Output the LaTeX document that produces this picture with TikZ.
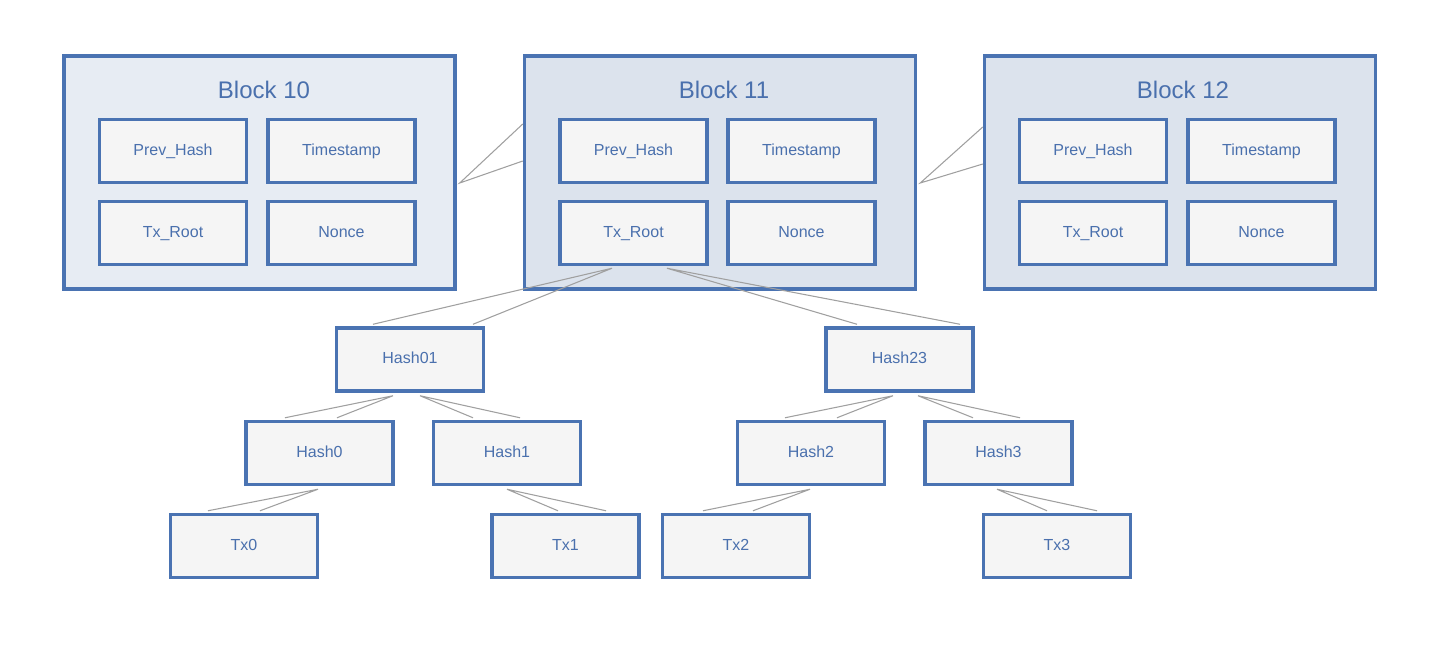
\documentclass[tikz,border=0pt]{standalone}
\usepackage{fontspec}
\setmainfont{Liberation Sans}
\usetikzlibrary{calc}
\definecolor{bord}{HTML}{4A73B2}
\definecolor{txt}{HTML}{4A70AD}
\definecolor{blkA}{HTML}{E7ECF3}
\definecolor{blkB}{HTML}{DCE3ED}
\definecolor{cell}{HTML}{F5F5F5}
\definecolor{fan}{HTML}{A0A0A0}
\tikzset{
  blockbox/.style={draw=bord, line width=2.6pt, minimum width=293.25pt, minimum height=174.75pt, inner sep=0pt},
  cellbox/.style={draw=bord, fill=cell, line width=2.6pt, minimum width=110.25pt, minimum height=47.25pt, inner sep=0pt, text=txt, font=\fontsize{12}{14}\selectfont, text height=8.6pt, text depth=2.4pt},
  title/.style={text=txt, font=\fontsize{18}{21}\selectfont, inner sep=0pt},
  fanline/.style={draw=fan, line width=0.8pt},
}
\begin{document}
\begin{tikzpicture}[x=0.75pt, y=-0.75pt]
\useasboundingbox (0,0) rectangle (1440,654);
% blocks
\node[blockbox, fill=blkA] (b10) at (259.5,172.5) {};
\node[blockbox, fill=blkB] (b11) at (720,172.5) {};
\node[blockbox, fill=blkB] (b12) at (1180,172.5) {};
\node[title] (t10) at (264,90) {Block 10};
\node[title] (t11) at (724,90) {Block 11};
\node[title] (t12) at (1183,90) {Block 12};
% block 10 cells
\node[cellbox] (p10) at (173,151) {Prev\_Hash};
\node[cellbox] (s10) at (341.5,151) {Timestamp};
\node[cellbox] (r10) at (173,233) {Tx\_Root};
\node[cellbox] (n10) at (341.5,233) {Nonce};
% block 11 cells
\node[cellbox] (p11) at (633.5,151) {Prev\_Hash};
\node[cellbox] (s11) at (801.5,151) {Timestamp};
\node[cellbox] (r11) at (633.5,233) {Tx\_Root};
\node[cellbox] (n11) at (801.5,233) {Nonce};
% block 12 cells
\node[cellbox] (p12) at (1093,151) {Prev\_Hash};
\node[cellbox] (s12) at (1261.5,151) {Timestamp};
\node[cellbox] (r12) at (1093,233) {Tx\_Root};
\node[cellbox] (n12) at (1261.5,233) {Nonce};
% merkle tree
\node[cellbox] (h01) at (410,359.5) {Hash01};
\node[cellbox] (h23) at (899.5,359.5) {Hash23};
\node[cellbox] (h0) at (319.5,453) {Hash0};
\node[cellbox] (h1) at (507,453) {Hash1};
\node[cellbox] (h2) at (811,453) {Hash2};
\node[cellbox] (h3) at (998.5,453) {Hash3};
\node[cellbox] (x0) at (244,546) {Tx0};
\node[cellbox] (x1) at (565.5,546) {Tx1};
\node[cellbox] (x2) at (736,546) {Tx2};
\node[cellbox] (x3) at (1057,546) {Tx3};
% block links
\draw[fanline] ($(b11.west)+(0,-48.5)$) -- ($(b10.east)+(3,10.5)$) -- ($(b11.west)+(0,-11.5)$);
\draw[fanline] ($(b12.west)+(0,-45.5)$) -- ($(b11.east)+(3,10.5)$) -- ($(b12.west)+(0,-8.5)$);
% tree links
\draw[fanline] ($(h01.north)+(-37,-2)$) -- ($(r11.south)+(-21.5,2)$) -- ($(h01.north)+(63,-2)$);
\draw[fanline] ($(h23.north)+(-42.5,-2)$) -- ($(r11.south)+(33.5,2)$) -- ($(h23.north)+(60.5,-2)$);
\draw[fanline] ($(h0.north)+(-34.5,-2)$) -- ($(h01.south)+(-17,3)$) -- ($(h0.north)+(17.5,-2)$);
\draw[fanline] ($(h1.north)+(-34,-2)$) -- ($(h01.south)+(10,3)$) -- ($(h1.north)+(13,-2)$);
\draw[fanline] ($(h2.north)+(-26,-2)$) -- ($(h23.south)+(-6.5,3)$) -- ($(h2.north)+(26,-2)$);
\draw[fanline] ($(h3.north)+(-25.5,-2)$) -- ($(h23.south)+(18.5,3)$) -- ($(h3.north)+(21.5,-2)$);
\draw[fanline] ($(x0.north)+(-36,-2)$) -- ($(h0.south)+(-1.5,3)$) -- ($(x0.north)+(16,-2)$);
\draw[fanline] ($(x1.north)+(-7.5,-2)$) -- ($(h1.south)+(0,3)$) -- ($(x1.north)+(40.5,-2)$);
\draw[fanline] ($(x2.north)+(-33,-2)$) -- ($(h2.south)+(-1,3)$) -- ($(x2.north)+(17,-2)$);
\draw[fanline] ($(x3.north)+(-10,-2)$) -- ($(h3.south)+(-1.5,3)$) -- ($(x3.north)+(40,-2)$);
\end{tikzpicture}
\end{document}
